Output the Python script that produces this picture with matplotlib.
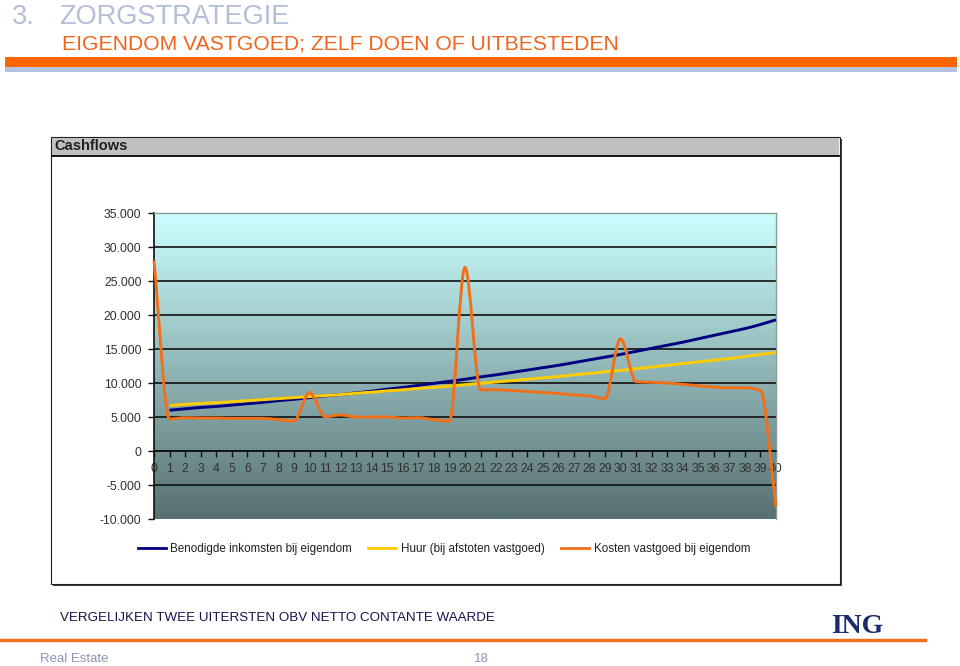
import numpy as np
import matplotlib
matplotlib.use("Agg")
import matplotlib.pyplot as plt
from matplotlib.path import Path
from matplotlib.patches import PathPatch, Rectangle
from matplotlib.lines import Line2D

plt.rcParams['font.family'] = ['Liberation Sans', 'DejaVu Sans']

# data (in euro)
jaren = list(range(0, 41))
benodigd = [None, 6000, 6200, 6400, 6550, 6750, 6950, 7150, 7400, 7600, 7850,
            8100, 8300, 8550, 8800, 9100, 9350, 9650, 9950, 10250, 10550,
            10900, 11200, 11550, 11900, 12250, 12600, 13000, 13400, 13800, 14200,
            14650, 15100, 15550, 16000, 16500, 17000, 17500, 18000, 18600, 19300]
huur = [None, 6700, 6850, 7000, 7100, 7250, 7400, 7550, 7700, 7850, 8000,
        8150, 8300, 8500, 8650, 8850, 9000, 9200, 9350, 9550, 9750,
        9950, 10150, 10350, 10550, 10750, 10950, 11200, 11400, 11650, 11850,
        12100, 12350, 12600, 12850, 13100, 13350, 13600, 13900, 14200, 14500]
kosten = [28000, 4700, 4900, 4850, 4850, 4800, 4800, 4800, 4600, 4400, 8600,
          5050, 5300, 5000, 5000, 5000, 4850, 4900, 4600, 4400, 27000,
          9000, 9000, 8900, 8750, 8600, 8450, 8250, 8100, 7700, 16500,
          10200, 10100, 10000, 9800, 9600, 9400, 9300, 9300, 8900, -8200]
reeksen = ['Benodigde inkomsten bij eigendom', 'Huur (bij afstoten vastgoed)',
           'Kosten vastgoed bij eigendom']
kleuren = ['#000080', '#ffcc00', '#f26f1a']
y_ticks = [-10000, -5000, 0, 5000, 10000, 15000, 20000, 25000, 30000, 35000]

W, H = 960, 666


def fx(x):
    return x / W


def fy(y):
    return 1 - y / H


def smooth_path(xs, ys):
    # smoothed line without overshoot: bezier segments with monotone tangents
    pts = [(x, y) for x, y in zip(xs, ys) if y is not None]
    px = np.array([p[0] for p in pts], dtype=float)
    py = np.array([p[1] for p in pts], dtype=float)
    d = np.diff(py) / np.diff(px)
    m = np.zeros(len(px))
    m[0], m[-1] = d[0], d[-1]
    for i in range(1, len(px) - 1):
        if d[i - 1] * d[i] > 0:
            m[i] = 2 / (1 / d[i - 1] + 1 / d[i])
    verts = [(px[0], py[0])]
    codes = [Path.MOVETO]
    for i in range(len(px) - 1):
        h = px[i + 1] - px[i]
        verts += [(px[i] + h / 3, py[i] + m[i] * h / 3),
                  (px[i + 1] - h / 3, py[i + 1] - m[i + 1] * h / 3),
                  (px[i + 1], py[i + 1])]
        codes += [Path.CURVE4] * 3
    return Path(verts, codes)


fig = plt.figure(figsize=(9.6, 6.66), dpi=100)

# page header
fig.text(fx(12), fy(24), '3.', fontsize=19.5, color='#b3bed8', va='baseline')
fig.text(fx(59), fy(24), 'ZORGSTRATEGIE', fontsize=19.5, color='#b3bed8', va='baseline')
fig.text(fx(62), fy(50), 'EIGENDOM VASTGOED; ZELF DOEN OF UITBESTEDEN', fontsize=15.2,
         color='#f0641e', va='baseline')
fig.patches.append(Rectangle((fx(5), fy(67)), fx(952), 10 / H, transform=fig.transFigure,
                             facecolor='#ff6600', edgecolor='none'))
fig.patches.append(Rectangle((fx(5), fy(72)), fx(952), 5 / H, transform=fig.transFigure,
                             facecolor='#b4c2de', edgecolor='none'))

# chart box with shadow and title bar
fig.patches.append(Rectangle((fx(53), fy(586)), fx(789), 447 / H, transform=fig.transFigure,
                             facecolor='#404040', edgecolor='none'))
fig.patches.append(Rectangle((fx(51), fy(584)), fx(789), 447 / H, transform=fig.transFigure,
                             facecolor='white', edgecolor='#202020', lw=0.8))
fig.patches.append(Rectangle((fx(52), fy(155)), fx(787), 17 / H, transform=fig.transFigure,
                             facecolor='#c0c0c0', edgecolor='none'))
fig.lines.append(Line2D([fx(52), fx(839)], [fy(155.5), fy(155.5)], transform=fig.transFigure,
                        color='black', lw=1.3))
fig.text(fx(54), fy(146.5), 'Cashflows', fontsize=10.5, fontweight='bold', color='#202020',
         va='center')

# plot area
ax = fig.add_axes([fx(154), fy(519), 622 / W, 306 / H])
ax.set_zorder(5)
grad = np.linspace(0, 1, 256).reshape(-1, 1)
top = np.array([204, 255, 255]) / 255
bot = np.array([88, 112, 114]) / 255
img = top[None, None, :] * (1 - grad[:, :, None]) + bot[None, None, :] * grad[:, :, None]
ax.imshow(img, extent=(0, 1, 0, 1), transform=ax.transAxes, aspect='auto', zorder=-2)
ax.set_xlim(0, 40)
ax.set_ylim(-10000, 35000)

for v in y_ticks[1:-1]:
    ax.axhline(v, color='#101010', lw=1.2, zorder=1)

xs = np.array(jaren)
for naam, kleur, waarden in zip(reeksen, kleuren, [benodigd, huur, kosten]):
    ax.add_patch(PathPatch(smooth_path(xs, waarden), facecolor='none', edgecolor=kleur,
                           lw=2.1, zorder=3, clip_on=False))

ax.spines['bottom'].set_position(('data', 0))
ax.spines['bottom'].set_color('#101010')
ax.spines['bottom'].set_linewidth(1.2)
ax.spines['left'].set_color('#101010')
ax.spines['left'].set_linewidth(1.2)
for s in ['top', 'right']:
    ax.spines[s].set_color('#8a9a9a')
    ax.spines[s].set_linewidth(1)

ax.set_xticks(jaren)
ax.set_xticklabels([str(j) for j in jaren])
ax.set_yticks(y_ticks)
ax.set_yticklabels(['0' if v == 0 else f'{v:,}'.replace(',', '.') for v in y_ticks])
ax.tick_params(axis='x', direction='out', length=4, width=1, pad=5, labelsize=8.8,
               labelcolor='#303030', color='#101010')
ax.tick_params(axis='y', direction='out', length=4, width=1, pad=5, labelsize=8.8,
               labelcolor='#303030', color='#101010')

# legend
handles = [Line2D([], [], color=k, lw=2) for k in kleuren]
fig.legend(handles, reeksen, loc='center', bbox_to_anchor=(fx(444), fy(549)), ncol=3,
           frameon=False, fontsize=8.4, handlelength=2.4, handletextpad=0.4,
           columnspacing=1.4, labelcolor='#202020')

# footer
fig.text(fx(60), fy(621), 'VERGELIJKEN TWEE UITERSTEN OBV NETTO CONTANTE WAARDE',
         fontsize=9.6, color='#141450', va='baseline')
fig.lines.append(Line2D([0, fx(925)], [fy(640), fy(640)], transform=fig.transFigure,
                        color='#f07020', lw=2.5))
fig.text(fx(40), fy(658.5), 'Real Estate', fontsize=9.5, color='#8c94b4', va='center')
fig.text(fx(474), fy(658.5), '18', fontsize=9.5, color='#8c94b4', va='center')
fig.text(fx(831), fy(633), 'ING', fontsize=20, fontweight='bold', color='#1a2a6c',
         family='Liberation Serif', va='baseline')

fig.savefig('out.png', dpi=100)
